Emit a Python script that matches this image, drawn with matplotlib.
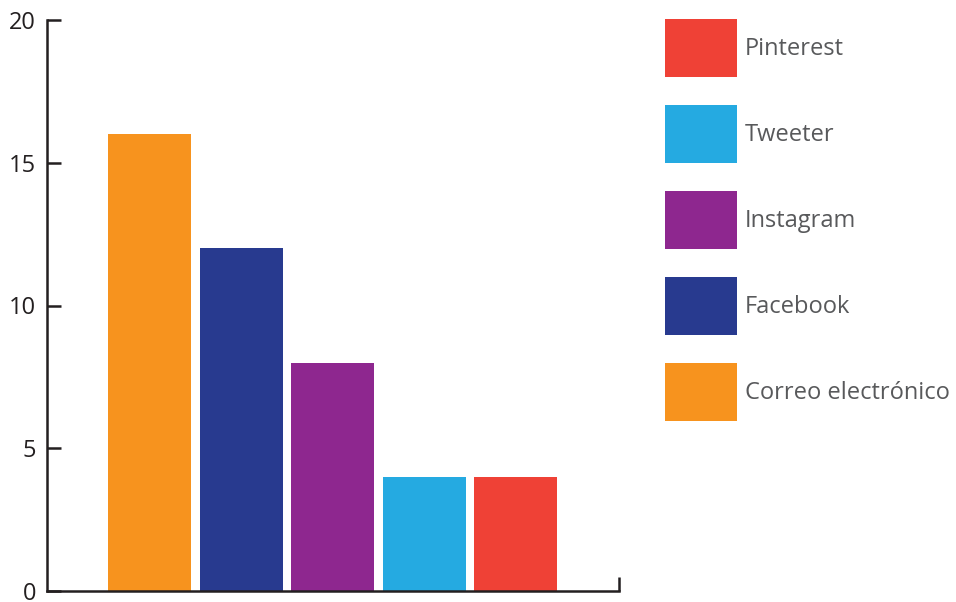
import matplotlib
matplotlib.use("Agg")
import matplotlib.pyplot as plt

categories = ["Correo electrónico", "Facebook", "Instagram", "Tweeter", "Pinterest"]
values = [16, 12, 8, 4, 4]
colors = ["#f7931e", "#283a8f", "#8e278f", "#25aae1", "#ef4136"]
yticks = [0, 5, 10, 15, 20]

plt.rcParams['font.family'] = ['Open Sans', 'DejaVu Sans']

fig = plt.figure(figsize=(9.56, 6.02), dpi=100)
ax = fig.add_axes([47/956, 1-591/602, (619-47)/956, (591-20)/602])

x = list(range(len(categories)))
bars = ax.bar(x, values, width=0.907, color=colors, label=categories, zorder=1)

ax.set_xlim(-1.12, 5.13)
ax.set_ylim(0, 20)
ax.set_yticks(yticks)
ax.set_yticklabels([str(v) for v in yticks])
ax.set_xticks([5.13])
ax.set_xticklabels([""])

axc = "#231f20"
for s in ["top", "right"]:
    ax.spines[s].set_visible(False)
for s in ["left", "bottom"]:
    ax.spines[s].set_color(axc)
    ax.spines[s].set_linewidth(1.8)
    ax.spines[s].set_zorder(3)
ax.tick_params(axis="both", direction="in", length=10, width=1.8, color=axc,
               labelsize=17, labelcolor=axc, pad=8)
for lab in ax.get_yticklabels():
    lab.set_clip_on(False)

handles = list(bars.patches)[::-1]
labels = categories[::-1]
fs = 17
fpx = fs * 100 / 72
patch_h = 58 / fpx
hh = (patch_h - 0.245) / 0.65
leg = fig.legend(handles, labels, loc="upper left",
                 bbox_to_anchor=(665/956, 1 - 19/602), frameon=False,
                 fontsize=fs, handlelength=72/fpx, handleheight=hh,
                 handletextpad=8/fpx, labelspacing=28/fpx,
                 borderpad=0, borderaxespad=0)
for t in leg.get_texts():
    t.set_color("#58595b")

fig.savefig("out.png", dpi=100)
